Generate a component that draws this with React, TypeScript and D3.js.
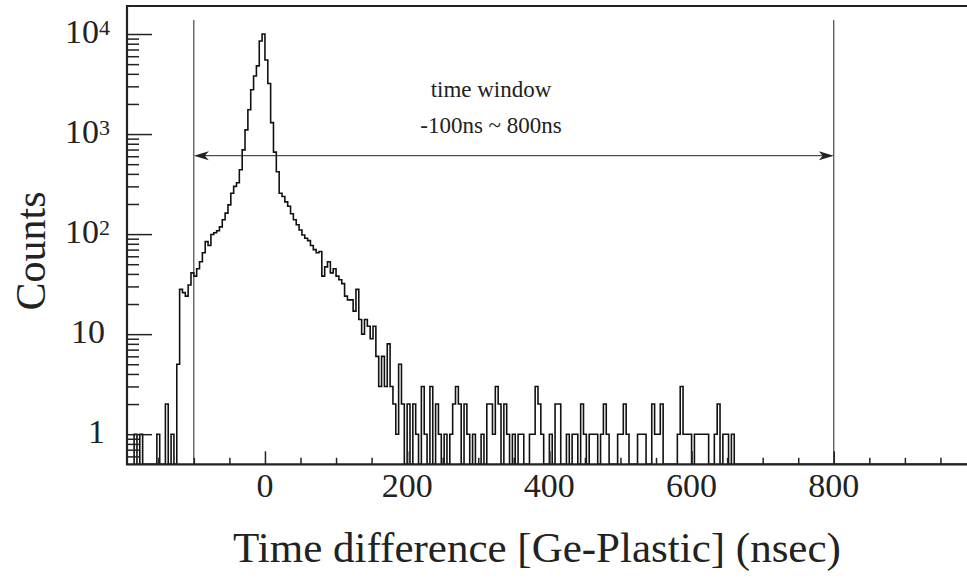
import React, { useRef, useEffect } from 'react';
import * as d3 from 'd3';

// histogram binning in nsec
const binStart = -184;
const binWidth = 4;

// counts per 4 ns bin, first bin starts at -184 ns
const counts = [
    1, 0, 1, 0, 0, 0, 0, 0, 1, 0, 0, 2, 0, 1, 0, 5, 28,
    26, 24, 31, 41, 38, 45, 53, 65, 84, 77, 99, 103, 108, 118, 139, 162, 196, 256, 300, 326, 440,
    695, 1100, 1750, 2770, 3800, 4800, 8500, 10000, 5500, 3200, 1300, 660, 420, 256, 238, 210, 190,
    160, 139, 124, 110, 98, 91, 86, 77, 70, 65, 67, 38, 47, 53, 41, 45, 38, 35, 32, 24, 22, 22,
    17, 28, 14, 10, 14, 12, 9, 12, 6, 3, 6, 3, 8, 3, 2, 1, 5, 2,
    0, 2, 0, 2, 1, 0, 3, 1, 0, 3, 0, 2, 1, 0, 1, 0, 1, 2, 3, 2, 0, 2, 1, 0, 1, 0,
    0, 1, 0, 2, 2, 1, 3, 2, 0, 2, 1, 0, 1, 0, 1, 1, 0, 0, 1, 1, 3, 2, 1, 0, 0, 1,
    0, 2, 2, 0, 0, 1, 0, 1, 1, 0, 2, 1, 0, 1, 1, 1, 0, 1, 2, 1, 0, 0, 0, 1, 1, 2,
    1, 0, 0, 0, 1, 1, 1, 0, 0, 2, 1, 1, 2, 0, 0, 0, 0, 0, 1, 3, 1, 1, 1, 0, 1, 1,
    1, 1, 1, 0, 0, 1, 2, 0, 1, 1, 0, 1, 0,
];

const xMajorTicks = [0, 200, 400, 600, 800];
const xMinorTicks = [-150, -100, -50, 50, 100, 150, 250, 300, 350, 450, 500, 550, 650, 700, 750, 850, 900, 950];
const yMajorTicks = [1, 10, 100, 1000, 10000];
const yTickLabels = ['1', '10', '10|2', '10|3', '10|4'];
const windowEdges = [-100, 800];
const windowText = ['time window', '-100ns ~ 800ns'];

const font = "'Liberation Serif', 'Times New Roman', serif";

const App = () => {
    const chartRef = useRef(null);

    useEffect(() => {
        document.body.style.margin = '0';
        const svg = d3.select(chartRef.current);
        svg.selectAll('*').remove();

        const left = 127, top = 6, right = 976, bottom = 464.3;

        const x = d3.scaleLinear().domain([-194, 1000]).range([left, right]);
        const y = d3.scaleLog().domain([0.5, 19055]).range([bottom, top]);
        const yc = (c) => (c > 0 ? y(c) : bottom);

        svg.append('clipPath').attr('id', 'plot-clip')
            .append('rect')
            .attr('x', left).attr('y', top)
            .attr('width', right - left).attr('height', bottom - top);

        // histogram as a step line
        const pts = [{ t: binStart, c: 0 }];
        counts.forEach((c, i) => pts.push({ t: binStart + i * binWidth, c }));
        pts.push({ t: binStart + counts.length * binWidth, c: 0 });
        pts.push({ t: 1000, c: 0 });

        const line = d3.line()
            .x((d) => x(d.t))
            .y((d) => yc(d.c))
            .curve(d3.curveStepAfter);

        svg.append('path')
            .datum(pts)
            .attr('clip-path', 'url(#plot-clip)')
            .attr('d', line)
            .attr('fill', 'none')
            .attr('stroke', '#111')
            .attr('stroke-width', 1.6);

        // time window lines
        svg.selectAll('.win')
            .data(windowEdges)
            .enter()
            .append('line')
            .attr('x1', (d) => x(d)).attr('x2', (d) => x(d))
            .attr('y1', 20).attr('y2', bottom)
            .attr('stroke', '#222')
            .attr('stroke-width', 1);

        const arrowY = 155.7;
        const xa = x(windowEdges[0]), xb = x(windowEdges[1]);
        svg.append('line')
            .attr('x1', xa + 4).attr('x2', xb - 4)
            .attr('y1', arrowY).attr('y2', arrowY)
            .attr('stroke', '#222').attr('stroke-width', 1);
        svg.append('path')
            .attr('d', `M${xa},${arrowY} L${xa + 15},${arrowY - 4.5} L${xa + 11},${arrowY} L${xa + 15},${arrowY + 4.5} Z`)
            .attr('fill', '#222');
        svg.append('path')
            .attr('d', `M${xb},${arrowY} L${xb - 15},${arrowY - 4.5} L${xb - 11},${arrowY} L${xb - 15},${arrowY + 4.5} Z`)
            .attr('fill', '#222');

        const midX = 491;
        svg.selectAll('.wintext')
            .data(windowText)
            .enter()
            .append('text')
            .attr('x', midX)
            .attr('y', (d, i) => 97 + i * 36)
            .attr('text-anchor', 'middle')
            .style('font-family', font)
            .style('font-size', '23px')
            .attr('fill', '#222')
            .text((d) => d);

        // y ticks, drawn inward from the left frame
        const yMinor = [];
        [0.1, 1, 10, 100, 1000].forEach((dec) => {
            for (let k = 2; k <= 9; k++) {
                const v = dec * k;
                if (v > 0.5 && v < 19055) yMinor.push(v);
            }
        });
        svg.append('g')
            .attr('transform', `translate(${left},0)`)
            .call(d3.axisRight(y).tickValues(yMinor).tickSize(12).tickFormat(''))
            .call((g) => g.select('.domain').remove())
            .call((g) => g.selectAll('line').attr('stroke', '#222').attr('stroke-width', 1.5));
        svg.append('g')
            .attr('transform', `translate(${left},0)`)
            .call(d3.axisRight(y).tickValues(yMajorTicks).tickSize(25).tickFormat(''))
            .call((g) => g.select('.domain').remove())
            .call((g) => g.selectAll('line').attr('stroke', '#222').attr('stroke-width', 1.5));

        // x ticks, drawn upward from the bottom frame
        svg.append('g')
            .attr('transform', `translate(0,${bottom})`)
            .call(d3.axisTop(x).tickValues(xMinorTicks).tickSize(6.5).tickFormat(''))
            .call((g) => g.select('.domain').remove())
            .call((g) => g.selectAll('line').attr('stroke', '#222').attr('stroke-width', 1.5));
        svg.append('g')
            .attr('transform', `translate(0,${bottom})`)
            .call(d3.axisTop(x).tickValues(xMajorTicks).tickSize(13).tickFormat(''))
            .call((g) => g.select('.domain').remove())
            .call((g) => g.selectAll('line').attr('stroke', '#222').attr('stroke-width', 1.5));

        // frame
        svg.append('path')
            .attr('d', `M${right},${top} H${left} V${bottom} H${right}`)
            .attr('fill', 'none')
            .attr('stroke', '#222')
            .attr('stroke-width', 2.2);

        // x tick labels
        svg.selectAll('.xlab')
            .data(xMajorTicks)
            .enter()
            .append('text')
            .attr('x', (d) => x(d))
            .attr('y', 497)
            .attr('text-anchor', 'middle')
            .style('font-family', font)
            .style('font-size', '34px')
            .attr('fill', '#222')
            .text((d) => d);

        // y tick labels, powers of ten with superscripts
        yMajorTicks.forEach((v, i) => {
            const [base, exp] = yTickLabels[i].split('|');
            const t = svg.append('text')
                .attr('y', y(v) + 9)
                .style('font-family', font)
                .style('font-size', '34px')
                .attr('fill', '#222');
            if (exp) {
                t.attr('x', 99).attr('text-anchor', 'end').text(base);
                svg.append('text')
                    .attr('x', 99)
                    .attr('y', y(v) + 1)
                    .style('font-family', font)
                    .style('font-size', '22px')
                    .attr('fill', '#222')
                    .text(exp);
            } else {
                t.attr('x', 105).attr('text-anchor', 'end').text(base);
            }
        });

        // axis titles
        svg.append('text')
            .attr('x', 537)
            .attr('y', 562)
            .attr('text-anchor', 'middle')
            .style('font-family', font)
            .style('font-size', '43px')
            .attr('fill', '#222')
            .text('Time difference [Ge-Plastic] (nsec)');

        svg.append('text')
            .attr('transform', 'translate(45,251) rotate(-90)')
            .attr('text-anchor', 'middle')
            .style('font-family', font)
            .style('font-size', '42px')
            .attr('fill', '#222')
            .text('Counts');
    }, []);

    return <svg ref={chartRef} width={967} height={579} style={{ display: 'block' }}></svg>;
};

export default App;
